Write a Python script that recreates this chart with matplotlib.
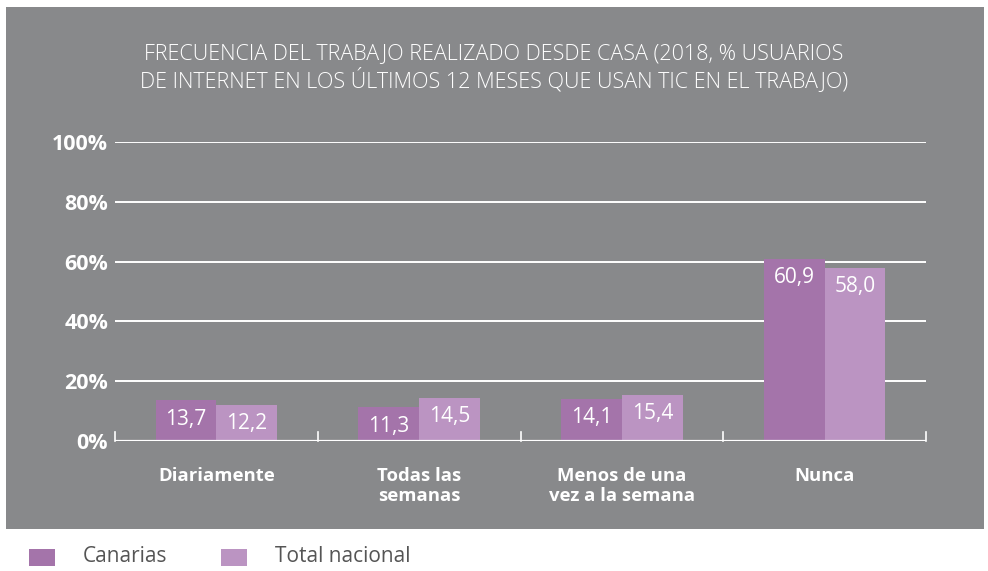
import matplotlib
matplotlib.use("Agg")
import matplotlib.pyplot as plt
from matplotlib.patches import Rectangle
import numpy as np

categories = ["Diariamente", "Todas las\nsemanas", "Menos de una\nvez a la semana", "Nunca"]
canarias = [13.7, 11.3, 14.1, 60.9]
total_nacional = [12.2, 14.5, 15.4, 58.0]
series_names = ["Canarias", "Total nacional"]
yticks = [0, 20, 40, 60, 80, 100]
ytick_labels = ["0%", "20%", "40%", "60%", "80%", "100%"]
title = ("FRECUENCIA DEL TRABAJO REALIZADO DESDE CASA (2018, % USUARIOS\n"
         "DE INTERNET EN LOS ÚLTIMOS 12 MESES QUE USAN TIC EN EL TRABAJO)")

W, H = 988, 571
GREY = "#88898b"
C1 = "#a474aa"
C2 = "#bb94c2"
FONT = ["Open Sans", "DejaVu Sans"]

fig = plt.figure(figsize=(W / 100, H / 100), dpi=100)
fig.patch.set_facecolor("white")

# grey panel
fig.patches.append(Rectangle((6 / W, (H - 529) / H), (984 - 6) / W, (529 - 7) / H,
                             transform=fig.transFigure, facecolor=GREY,
                             edgecolor="none", zorder=-10))

ax = fig.add_axes([115 / W, (H - 441) / H, 811 / W, (441 - 142) / H])
ax.set_facecolor("none")
ax.set_zorder(5)
ax.set_xlim(-0.5, len(categories) - 0.5)
ax.set_ylim(0, 100)

x = np.arange(len(categories))
w = 0.3
b1 = ax.bar(x - w / 2, canarias, w, color=C1, zorder=3, label=series_names[0])
b2 = ax.bar(x + w / 2, total_nacional, w, color=C2, zorder=3, label=series_names[1])

for bars, vals in ((b1, canarias), (b2, total_nacional)):
    for r, v in zip(bars, vals):
        ax.annotate(f"{v:.1f}".replace(".", ","),
                    (r.get_x() + r.get_width() / 2, v),
                    xytext=(0, -19), textcoords="offset pixels",
                    ha="center", va="center", color="white", fontsize=15,
                    family=FONT, zorder=4)

for s in ax.spines.values():
    s.set_visible(False)
for yv in yticks[1:]:
    ax.axhline(yv, color="white", lw=1.4, zorder=1)
ax.axhline(0, color="white", lw=1.6, zorder=4)

ax.set_yticks(yticks)
ax.set_yticklabels(ytick_labels, family=FONT, fontsize=15.5, fontweight="bold", color="white")
ax.tick_params(axis="y", length=0, pad=5)
ax.get_yticklabels()[0].set_y(-1.5)
ax.set_xticks(x)
ax.set_xticklabels(categories, family=FONT, fontsize=13.3, fontweight="bold",
                   color="white", linespacing=1.15, va="top")
ax.tick_params(axis="x", length=0, pad=19)

# boundary tick marks
for xb in np.arange(-0.5, len(categories), 1.0):
    ax.plot([xb, xb], [0, 3], color="white", lw=1.2, zorder=4, clip_on=False)

fig.text(0.5, (H - 68) / H, title, ha="center", va="center", color="white",
         fontsize=15.5, family=FONT, fontweight="light", linespacing=1.15)

# legend
for i, (name, col) in enumerate(zip(series_names, [C1, C2])):
    x0 = [29, 221][i]
    fig.patches.append(Rectangle((x0 / W, (H - 566) / H), 26 / W, 17 / H,
                                 transform=fig.transFigure, facecolor=col, edgecolor="none"))
    fig.text((x0 + 54) / W, (H - 557) / H, name, ha="left", va="center",
             color="#555555", fontsize=15, family=FONT)

fig.savefig("out.png", dpi=100, facecolor="white")
